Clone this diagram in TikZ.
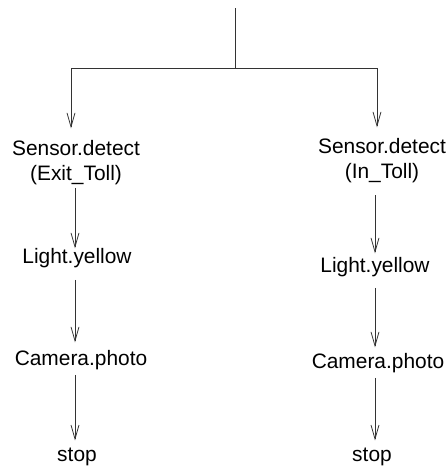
\documentclass[tikz,border=0pt]{standalone}
\usepackage{fontspec}
\setmainfont{Liberation Sans}
\usetikzlibrary{arrows.meta}
\begin{document}
\begin{tikzpicture}[x=1pt,y=-1pt,
  lbl/.style={font=\fontsize{20.9}{25}\selectfont, inner sep=0pt, outer sep=0pt, anchor=base, align=center},
  ln/.style={line width=0.8pt, draw=black!80},
  arr/.style={ln, -{Straight Barb[length=14pt,width=8pt,line width=0.8pt]}}]
\useasboundingbox (0,0) rectangle (448,467);
% column guides
\coordinate (colL) at (75,0);
\coordinate (colR) at (375,0);
\coordinate (top) at (235,8);
\coordinate (jn) at (235,68);
\coordinate (bl) at (71,68);
\coordinate (br) at (377,68);
% nodes (base anchor = baseline of the last line)
\node[lbl] (s1) at (76,180) {Sensor.detect\\(Exit\_Toll)};
\node[lbl] (s2) at (382,178) {Sensor.detect\\(In\_Toll)};
\node[lbl] (l1) at (77,263.5) {Light.yellow};
\node[lbl] (l2) at (375,272.5) {Light.yellow};
\node[lbl] (c1) at (81,365.5) {Camera.photo};
\node[lbl] (c2) at (378,368.5) {Camera.photo};
\node[lbl] (t1) at (77,461) {stop};
\node[lbl] (t2) at (372,461) {stop};
% top fork
\draw[ln] (top) -- (jn);
\draw[ln] (bl) -- (br);
\draw[arr, shorten >=11.5pt] (bl) -- (bl |- s1.north);
\draw[arr, shorten >=10.5pt] (br) -- (br |- s2.north);
% left column
\draw[arr, shorten <=3.5pt] (s1.south -| colL) -- (l1.north -| colL);
\draw[arr, shorten <=12pt, shorten >=8pt] (l1.south -| colL) -- (c1.north -| colL);
\draw[arr, shorten <=5pt, shorten >=7pt] (c1.south -| colL) -- (t1.north -| colL);
% right column
\draw[arr, shorten <=13pt, shorten >=4pt] (s2.south -| colR) -- (l2.north -| colR);
\draw[arr, shorten <=11pt, shorten >=6pt] (l2.south -| colR) -- (c2.north -| colR);
\draw[arr, shorten <=5pt, shorten >=7pt] (c2.south -| colR) -- (t2.north -| colR);
\end{tikzpicture}
\end{document}
